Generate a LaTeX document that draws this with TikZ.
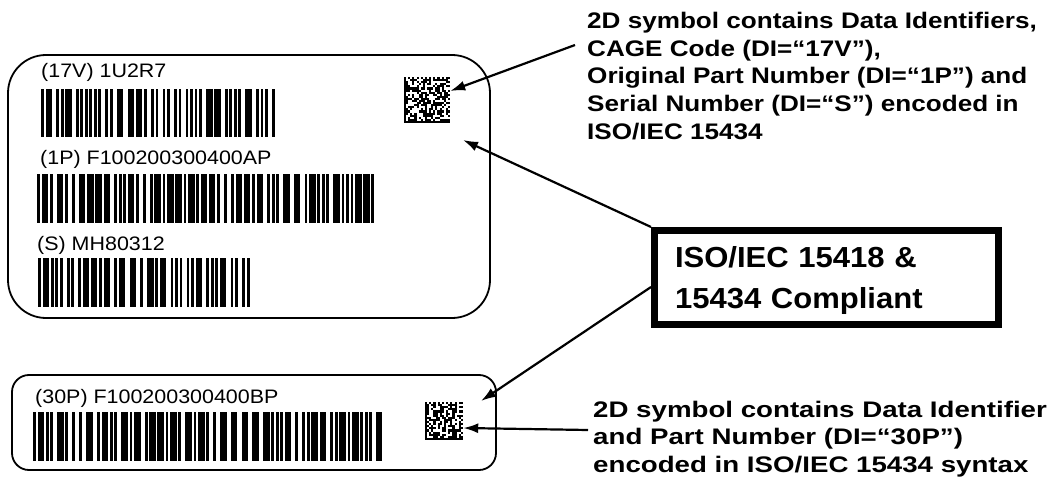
\documentclass[tikz,border=0pt]{standalone}
\usepackage{fontspec}
\usetikzlibrary{arrows.meta}
\newfontfamily\notefont[FakeStretch=1.16]{Liberation Sans}
\newfontfamily\notefontb[FakeStretch=1.23]{Liberation Sans}
\newfontfamily\boxfont[FakeStretch=1.07]{Liberation Sans}
\newfontfamily\codefont[FakeStretch=1.1]{Liberation Sans}

\newcommand{\barcode}[5]{%
	\pgfmathsetseed{#5}%
	\xdef\bcx{#1}%
	\foreach \k in {1,...,90}{%
		\pgfmathrandominteger{\ra}{0}{2}%
		\pgfmathrandominteger{\rb}{0}{2}%
		\pgfmathsetmacro{\bw}{\ra==2 ? 6.5 : 2.8}%
		\pgfmathsetmacro{\sw}{\rb==2 ? 4.2 : 1.7}%
		\pgfmathsetmacro{\bend}{\bcx+\bw}%
		\pgfmathtruncatemacro{\ok}{\bend<=#2}%
		\ifnum\ok=1 \fill (\bcx,#3) rectangle (\bend,#4);\fi
		\pgfmathsetmacro{\nx}{\bend+\sw}%
		\xdef\bcx{\nx}%
	}%
	\fill (#2-2.8,#3) rectangle (#2,#4);%
}

\newcommand{\dmcells}[5]{%
	\pgfmathsetseed{#5}%
	\foreach \i in {1,...,#3}{%
		\foreach \j in {1,...,#3}{%
			\pgfmathrandominteger{\rc}{0}{99}%
			\ifnum\rc<45 \fill[white] ({#1+\i*#4},{#2+\j*#4}) rectangle ++(#4,#4);\fi
		}%
		\pgfmathtruncatemacro{\odd}{mod(\i,2)}%
		\ifnum\odd=1 \fill[white] ({#1+\i*#4},#2) rectangle ++(#4,#4);%
			\fill[white] ({#1+(#3+1)*#4},{#2+\i*#4}) rectangle ++(#4,#4);\fi
	}%
}

\begin{document}
\begin{tikzpicture}[x=1pt, y=-1pt,
		labelbox/.style={draw, line width=1.8pt, inner sep=0pt},
		dmbox/.style={fill=black, inner sep=0pt, minimum size=#1},
		code/.style={anchor=base west, inner sep=0pt, font=\codefont\fontsize{19.5}{21}\selectfont},
		note/.style={anchor=north west, inner sep=0pt, align=left, font=\notefont\bfseries\fontsize{22.5}{27.7}\selectfont},
		stdbox/.style={draw, line width=7pt, inner xsep=20.5pt, text width=303pt, minimum height=94pt, align=left, font=\boxfont\bfseries\fontsize{29}{41}\selectfont},
		pointer/.style={line width=2.2pt, -{Latex[length=15pt, width=10pt]}}]
	\useasboundingbox (0,0) rectangle (1051,481);

	\node[labelbox, rounded corners=38pt, minimum width=482pt, minimum height=263pt] (lbl1) at (249,186.5) {};
	\node[labelbox, rounded corners=17pt, minimum width=484pt, minimum height=95pt] (lbl2) at (254,422.5) {};

	\node[code] (c17v) at (41,78) {(17V) 1U2R7};
	\node[code] (c1p) at (40,165) {(1P) F100200300400AP};
	\node[code] (cs) at (37,250) {(S) MH80312};
	\node[code] (c30p) at (35,403) {(30P) F100200300400BP};

	\barcode{41}{275}{89}{137}{11}
	\barcode{37}{374}{174}{223}{23}
	\barcode{38}{250}{258}{307}{37}
	\barcode{33}{382}{412}{461}{41}

	\node[dmbox=46pt] (dm1) at (427,100) {};
	\dmcells{404}{77}{20}{2.09}{5}
	\node[dmbox=38pt] (dm2) at (444,421) {};
	\dmcells{425}{402}{16}{2.11}{7}

	\node[note] (note1) at (587,11.9) {2D symbol contains Data Identifiers,\\CAGE Code (DI=“17V”),\\Original Part Number (DI=“1P”) and\\Serial Number (DI=“S”) encoded in\\ISO/IEC 15434};
	\node[note, font=\notefontb\bfseries\fontsize{22.5}{27.7}\selectfont] (note2) at (593,400.6) {2D symbol contains Data Identifier\\and Part Number (DI=“30P”)\\encoded in ISO/IEC 15434 syntax};
	\node[stdbox] (std) at (826.5,277.5) {\rule{0pt}{28pt}ISO/IEC 15418 \&\\15434 Compliant};

	\coordinate (t1) at (575,45);
	\coordinate (tipA) at (463,140);
	\coordinate (tipB) at (481,401);
	\coordinate (t4) at (588,430);
	\draw[pointer] (t1) -- ([yshift=9pt]dm1.east);
	\draw[pointer] (std.north west) -- (tipA);
	\draw[pointer] ([yshift=-9.5pt]std.west) -- (tipB);
	\draw[pointer] (t4) -- ([yshift=-7pt]dm2.east);
\end{tikzpicture}
\end{document}
